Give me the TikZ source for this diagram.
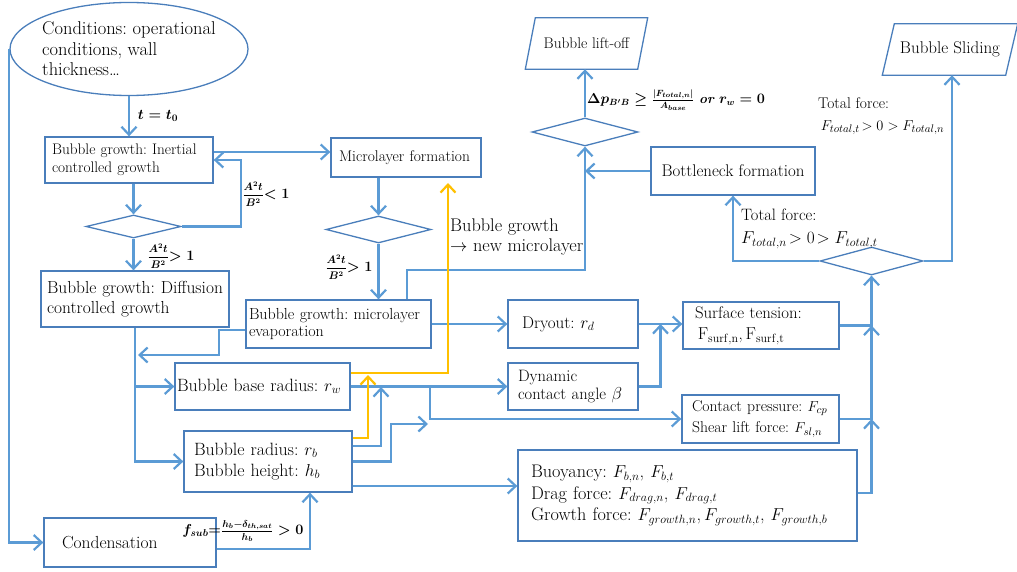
\documentclass[tikz,border=0pt]{standalone}
\usepackage{amsmath}
\usepackage{bm}
\usetikzlibrary{arrows.meta,shapes.geometric,calc}
\definecolor{lineblue}{HTML}{5B9BD5}
\definecolor{boxblue}{HTML}{4A7EBB}
\definecolor{lineyellow}{HTML}{FFC000}
\newcommand{\myfs}[2]{\fontsize{#1}{#2}\selectfont}
\newcommand{\afrac}[1]{{\myfs{10.5}{12}$\dfrac{A^2t}{B^2}$}$#1 1$}
\frenchspacing
\begin{document}
\begin{tikzpicture}[x=1pt,y=-1pt,
  boxline/.style={draw=boxblue, line width=1.3pt},
  bx/.style={boxline, rectangle, align=left, inner ysep=2pt},
  dia/.style={diamond, boxline, inner sep=0pt},
  arr/.style={draw=lineblue, line width=2.2pt, -{Straight Barb[length=8pt,width=15pt]}},
  yarr/.style={draw=lineyellow, line width=2.2pt, -{Straight Barb[length=8pt,width=15pt]}},
  lbl/.style={inner sep=0pt, align=left},
  eqlbl/.style={inner sep=0pt, font=\myfs{14}{15}\boldmath}]
\useasboundingbox (0,0) rectangle (1017,572);

% ---- nodes
\node[ellipse, boxline, minimum width=238, minimum height=93, inner xsep=-6pt, inner ysep=0pt, align=left, font=\myfs{18.5}{20.5}] (cond) at (129,49) {Conditions: operational\\ conditions, wall\\ thickness\ldots};

\node[bx, minimum width=168, minimum height=46, inner xsep=7, text width=154, font=\myfs{15.3}{17.5}] (inert) at (129,160) {\mbox{Bubble growth: Inertial}\\ \mbox{controlled growth}};
\node[bx, minimum width=188, minimum height=56, inner xsep=6, text width=176, font=\myfs{17.4}{20}] (diff) at (135,299) {\mbox{Bubble growth: Diffusion}\\ \mbox{controlled growth}};
\node[bx, minimum width=150, minimum height=39, inner xsep=8, text width=134, font=\myfs{15.5}{17}] (mform) at (406,157.5) {\mbox{Microlayer formation}};
\node[bx, minimum width=185, minimum height=48, inner xsep=3, text width=179, font=\myfs{16}{17}] (evap) at (338.5,324) {\mbox{Bubble growth: microlayer}\\ \mbox{evaporation}};
\node[bx, minimum width=130, minimum height=48, inner xsep=14, text width=102, font=\myfs{17}{18}] (dry) at (573,324) {\mbox{Dryout: $r_d$}};
\node[bx, minimum width=130, minimum height=47, inner xsep=10, text width=110, font=\myfs{16.5}{18.5}] (dyn) at (573,386.5) {\mbox{Dynamic}\\ \mbox{contact angle $\beta$}};
\node[bx, minimum width=156, minimum height=47, inner xsep=12, text width=132, font=\myfs{16.8}{21}] (surf) at (761,325.5) {\mbox{Surface tension:}\\ \mbox{\,$\mathrm{F_{surf,n}}$,\,$\mathrm{F_{surf,t}}$}};
\node[bx, minimum width=157, minimum height=48, inner xsep=10, text width=137, font=\myfs{15.7}{21}] (cp) at (760.5,419) {\mbox{Contact pressure: $F_{cp}$}\\ \mbox{Shear lift force: $F_{sl,n}$}};
\node[bx, minimum width=175, minimum height=47, inner xsep=2, text width=171, font=\myfs{17.8}{20}] (base) at (262.5,386.5) {\mbox{Bubble base radius: $r_w$}};
\node[bx, minimum width=168, minimum height=61, inner xsep=10, text width=148, font=\myfs{17.8}{21}] (rad) at (268,461.5) {\mbox{Bubble radius: $r_b$}\\ \mbox{Bubble height: $h_b$}};
\node[bx, minimum width=339, minimum height=91, inner xsep=13, text width=313, font=\myfs{18.2}{21.5}] (buoy) at (687.5,495.5) {\mbox{Buoyancy: $F_{b,n}$, $F_{b,t}$}\\ \mbox{Drag force: $F_{drag,n}$, $F_{drag,t}$}\\ \mbox{Growth force: $F_{growth,n}$,\,$F_{growth,t}$, $F_{growth,b}$}};
\node[bx, minimum width=172, minimum height=49, inner xsep=18, text width=136, font=\myfs{17.5}{19}] (conden) at (130,542.5) {Condensation};
\node[bx, minimum width=164, minimum height=48, align=center, font=\myfs{16.9}{18}] (bottle) at (733,171) {Bottleneck formation};

\node[minimum width=112, minimum height=51, inner sep=0pt, font=\myfs{15.4}{17}] (lift) at (586.5,43.5) {Bubble lift-off};
\draw[boxline] ([xshift=5pt]lift.north west) -- ([xshift=5pt]lift.north east) -- ([xshift=-5pt]lift.south east) -- ([xshift=-5pt]lift.south west) -- cycle;
\node[minimum width=123, minimum height=51, inner sep=0pt, font=\myfs{17}{18}] (slide) at (950,49.5) {Bubble Sliding};
\draw[boxline] ([xshift=6pt]slide.north west) -- ([xshift=6pt]slide.north east) -- ([xshift=-6pt]slide.south east) -- ([xshift=-6pt]slide.south west) -- cycle;

\node[dia, minimum width=95, minimum height=23] (d1) at (133.5,226.5) {};
\node[dia, minimum width=105, minimum height=27] (d2) at (378.5,229.5) {};
\node[dia, minimum width=106, minimum height=28] (d3) at (585,132) {};
\node[dia, minimum width=103, minimum height=28] (d4) at (871.5,261) {};

% ---- free-end coordinates
\coordinate (jev) at (138,355);
\coordinate (jb) at (381,387);
\coordinate (jbr) at (430,386.5);
\coordinate (jcp2) at (428,424);
\coordinate (ytip) at (368,375);
\coordinate (ytop) at (448,183);

% ---- blue connectors
\draw[arr] (cond.south) -- (cond.south |- inert.north);
\draw[arr] (cond.west) |- (conden.west);
\draw[arr] ([yshift=8pt]inert.east) -- ([yshift=8pt]inert.east -| mform.west);
\draw[arr] (d1.north |- inert.south) -- (d1.north);
\draw[arr] (d1.east) -- ++(59,0) |- (inert.east);
\draw[arr] (d1.south) -- (d1.south |- diff.north);
\draw[arr] (diff.south) |- (rad.west);
\draw[arr] (diff.south |- base.west) -- (base.west);
\draw[arr] ([yshift=-6pt]evap.west) -- ++(-26,0) |- (jev);
\draw[arr] (d2.north |- mform.south) -- (d2.north);
\draw[arr] (d2.south) -- (d2.south |- evap.north);
\draw[arr] ([xshift=68.5pt]evap.north) -- ++(0,-29) -| (d3.south);
\draw[arr] (bottle.west) -- (bottle.west -| d3.south);
\draw[arr] (d3.north) -- (d3.north |- lift.south);
\draw[arr] (evap.east) -- (evap.east -| dry.west);
\draw[arr] (dry.east) -- (dry.east -| surf.west);
\draw[arr] (dyn.east) -| ($(dry.east)!0.5!(dry.east -| surf.west)$);
\draw[arr] (base.east) -- (base.east -| dyn.west);
\draw[arr] (jbr) |- (cp.west);
\draw[arr] ([yshift=15.5pt]rad.east) -| (jb);
\draw[arr] (rad.east) -- ++(38,0) |- (jcp2);
\draw[arr] ([yshift=-24.5pt]rad.east) -- ([yshift=-24.5pt]rad.east -| buoy.west);
\draw[arr] ([yshift=-6.5pt]conden.east) -| ([xshift=42pt]rad.south);
\draw[arr] ([yshift=2.5pt]buoy.east) -| (d4.south |- cp.east);
\draw[arr] (cp.east) -| (d4.south |- surf.east);
\draw[arr] (surf.east) -| (d4.south);
\draw[arr] (d4.west) -| (bottle.south);
\draw[arr] (d4.east) -| ([xshift=2pt]slide.south);

% ---- yellow connectors
\draw[yarr] ([yshift=23.5pt]rad.east) -| (ytip);
\draw[yarr] ([yshift=13.5pt]base.east) -| (ytop);

% ---- labels
\node[eqlbl] (l0) at (158,116) {$t = t_0$};
\node[eqlbl] (l1) at (266,194) {\afrac{<}};
\node[eqlbl] (l2) at (171,256) {\afrac{>}};
\node[eqlbl] (l3) at (349,267) {\afrac{>}};
\node[eqlbl, font=\myfs{13.5}{15}\boldmath] (l4) at (676,100) {$\Delta p_{B'B}\geq\frac{|F_{total,n}|}{A_{base}}$ \textbf{\textit{or}} $r_w = 0$};
\node[eqlbl] (l5) at (243,531) {$f_{sub}{=}\frac{h_b-\delta_{th,sat}}{h_b}>0$};
\node[lbl, anchor=west, font=\myfs{18.3}{20}] (l6) at (450,237) {Bubble growth\\ $\rightarrow$ new microlayer};
\node[lbl, anchor=west, font=\myfs{15.5}{22}] (l7) at (818,116) {Total force:\\ \,$F_{total,t}\!>0>F_{total,n}$};
\node[lbl, anchor=west, font=\myfs{16.5}{23}] (l8) at (741,229) {Total force:\\ $F_{total,n}\!>0\!>F_{total,t}$};
\end{tikzpicture}
\end{document}
